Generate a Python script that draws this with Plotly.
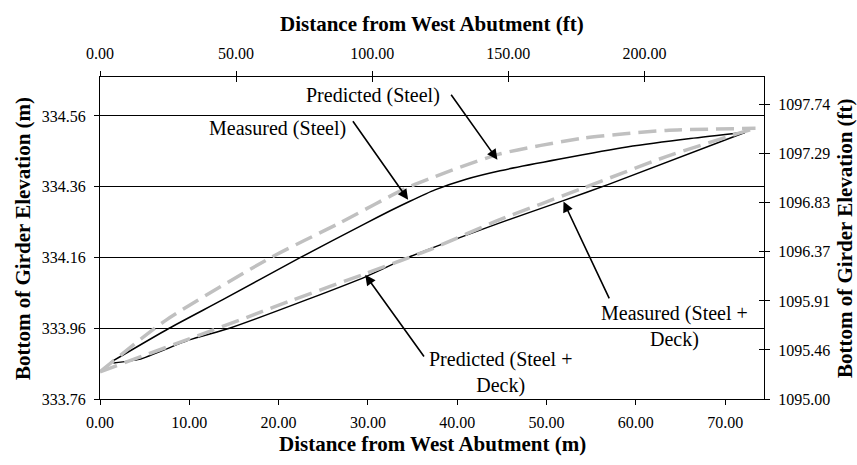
import plotly.graph_objects as go

M_TO_FT = 3.28084

# Measured (Steel) - black solid
ms_x = [1.2, 7.75, 13.7, 22.3, 29.8, 32.5, 34.7, 37.5, 41.0, 44.8, 51.5, 59.0, 66.1, 72.2]
ms_y = [333.864, 333.96, 334.04, 334.158, 334.257, 334.292, 334.319, 334.351, 334.381, 334.405, 334.438, 334.472, 334.496, 334.513]

# Predicted (Steel) - grey dashed
ps_x = [0.0, 7.4, 19.0, 26.8, 34.65, 44.7, 54.1, 63.4, 73.4]
ps_y = [333.837, 333.983, 334.158, 334.257, 334.36, 334.452, 334.497, 334.519, 334.525]

# Measured (Steel + Deck) - black solid
md_x = [1.5, 4.4, 10.0, 14.5, 23.1, 29.8, 34.3, 44.7, 51.8, 57.1, 72.2]
md_y = [333.862, 333.872, 333.927, 333.96, 334.04, 334.106, 334.158, 334.257, 334.32, 334.368, 334.513]

# Predicted (Steel + Deck) - grey dashed
pd_x = [0.0, 10.0, 17.1, 21.6, 29.8, 37.3, 44.7, 54.1, 63.4, 70.9, 73.4]
pd_y = [333.837, 333.93, 333.997, 334.04, 334.115, 334.186, 334.266, 334.356, 334.445, 334.506, 334.525]

x_m_ticks = [0, 10, 20, 30, 40, 50, 60, 70]
y_m_ticks = [333.76, 333.96, 334.16, 334.36, 334.56]
x_ft_ticks = [0, 50, 100, 150, 200]
y_ft_ticks = [1095.00, 1095.457, 1095.914, 1096.371, 1096.829, 1097.286, 1097.743]
y_ft_labels = ["1095.00", "1095.46", "1095.91", "1096.37", "1096.83", "1097.29", "1097.74"]

X_MAX_M = 74.35
Y_RANGE_M = [333.76, 334.67]
Y_RANGE_FT = [1095.0, 1098.0]

FONT = "Liberation Serif"
GREY = "#C0C0C0"

fig = go.Figure()
fig.add_trace(go.Scatter(x=ms_x, y=ms_y, mode="lines", name="Measured (Steel)",
                         line=dict(color="black", width=1.5, shape="spline", smoothing=0.6)))
fig.add_trace(go.Scatter(x=md_x, y=md_y, mode="lines", name="Measured (Steel + Deck)",
                         line=dict(color="black", width=1.5, shape="spline", smoothing=0.5)))
fig.add_trace(go.Scatter(x=ps_x, y=ps_y, mode="lines", name="Predicted (Steel)",
                         line=dict(color=GREY, width=3.5, dash="18px,8px", shape="spline", smoothing=0.6)))
fig.add_trace(go.Scatter(x=pd_x, y=pd_y, mode="lines", name="Predicted (Steel + Deck)",
                         line=dict(color=GREY, width=3.5, dash="18px,8px", shape="spline", smoothing=0.6)))

# invisible traces to carry the ft axes
for xa, ya in (("x2", "y2"), ("x3", "y3")):
    fig.add_trace(go.Scatter(x=[v * M_TO_FT for v in ms_x], y=[v * M_TO_FT for v in ms_y],
                             mode="lines", line=dict(color="rgba(0,0,0,0)"), hoverinfo="skip",
                             showlegend=False, xaxis=xa, yaxis=ya))

tickfont = dict(family=FONT, size=16, color="black")
common = dict(showline=True, linecolor="black", linewidth=1, zeroline=False,
              tickfont=tickfont, tickcolor="black", ticklen=5, tickwidth=1)

fig.update_layout(
    width=857, height=465,
    margin=dict(l=100, r=93, t=77, b=66),
    paper_bgcolor="white", plot_bgcolor="white",
    showlegend=False,
    font=dict(family=FONT, color="black"),
    xaxis=dict(range=[0, X_MAX_M], tickvals=x_m_ticks, tickformat=".2f", ticks="outside",
               showgrid=False, ticklabelstandoff=4, **common),
    yaxis=dict(range=Y_RANGE_M, tickvals=y_m_ticks, tickformat=".2f", ticks="outside",
               showgrid=True, gridcolor="black", gridwidth=1, ticklabelstandoff=5, **common),
    xaxis2=dict(overlaying="x", side="top", anchor="y", range=[0, X_MAX_M * M_TO_FT],
                tickvals=x_ft_ticks, tickformat=".2f", ticks="outside", showgrid=False,
                ticklabelstandoff=6, **common),
    yaxis2=dict(overlaying="y", side="right", anchor="x", range=Y_RANGE_FT,
                tickvals=y_ft_ticks, ticktext=y_ft_labels, ticks="outside", showgrid=False,
                ticklabelstandoff=5, **common),
    xaxis3=dict(overlaying="x", side="top", anchor="y", range=[0, X_MAX_M * M_TO_FT],
                tickvals=x_ft_ticks, ticks="inside", showticklabels=False, showgrid=False,
                showline=False, zeroline=False, tickcolor="black", ticklen=5, tickwidth=1),
    yaxis3=dict(overlaying="y", side="right", anchor="x", range=Y_RANGE_FT,
                tickvals=y_ft_ticks, ticks="inside", showticklabels=False, showgrid=False,
                showline=False, zeroline=False, tickcolor="black", ticklen=5, tickwidth=1),
)

title_font = dict(family=FONT, size=21, color="black")
ann_font = dict(family=FONT, size=20, color="black")

titles = [
    dict(text="<b>Distance from West Abutment (ft)</b>", x=0.5, y=1.165, textangle=0),
    dict(text="<b>Distance from West Abutment (m)</b>", x=0.5, y=-0.14, textangle=0),
    dict(text="<b>Bottom of Girder Elevation (m)</b>", x=-0.116, y=0.5, textangle=-90),
    dict(text="<b>Bottom of Girder Elevation (ft)</b>", x=1.122, y=0.5, textangle=-90),
]
for t in titles:
    fig.add_annotation(xref="paper", yref="paper", showarrow=False, font=title_font,
                       xanchor="center", yanchor="middle", **t)

labels = [
    dict(text="Predicted (Steel)", x=38.25, y=334.617, xanchor="right"),
    dict(text="Measured (Steel)", x=27.8, y=334.525, xanchor="right"),
    dict(text="Predicted (Steel +<br>Deck)", x=44.9, y=333.836, xanchor="center"),
    dict(text="Measured (Steel +<br>Deck)", x=64.3, y=333.964, xanchor="center"),
]
for l in labels:
    fig.add_annotation(xref="x", yref="y", showarrow=False, font=ann_font,
                       yanchor="middle", align="center", **l)

arrows = [
    (39.2, 334.624, 44.5, 334.436),
    (28.2, 334.549, 34.5, 334.323),
    (36.4, 333.876, 29.7, 334.111),
    (57.1, 334.04, 51.9, 334.318),
]
for ax_, ay_, x_, y_ in arrows:
    fig.add_annotation(xref="x", yref="y", axref="x", ayref="y", x=x_, y=y_, ax=ax_, ay=ay_,
                       text="", showarrow=True, arrowhead=2, arrowsize=1.3, arrowwidth=1.6,
                       arrowcolor="black", standoff=0, startstandoff=0)

fig.write_html("out.html")
